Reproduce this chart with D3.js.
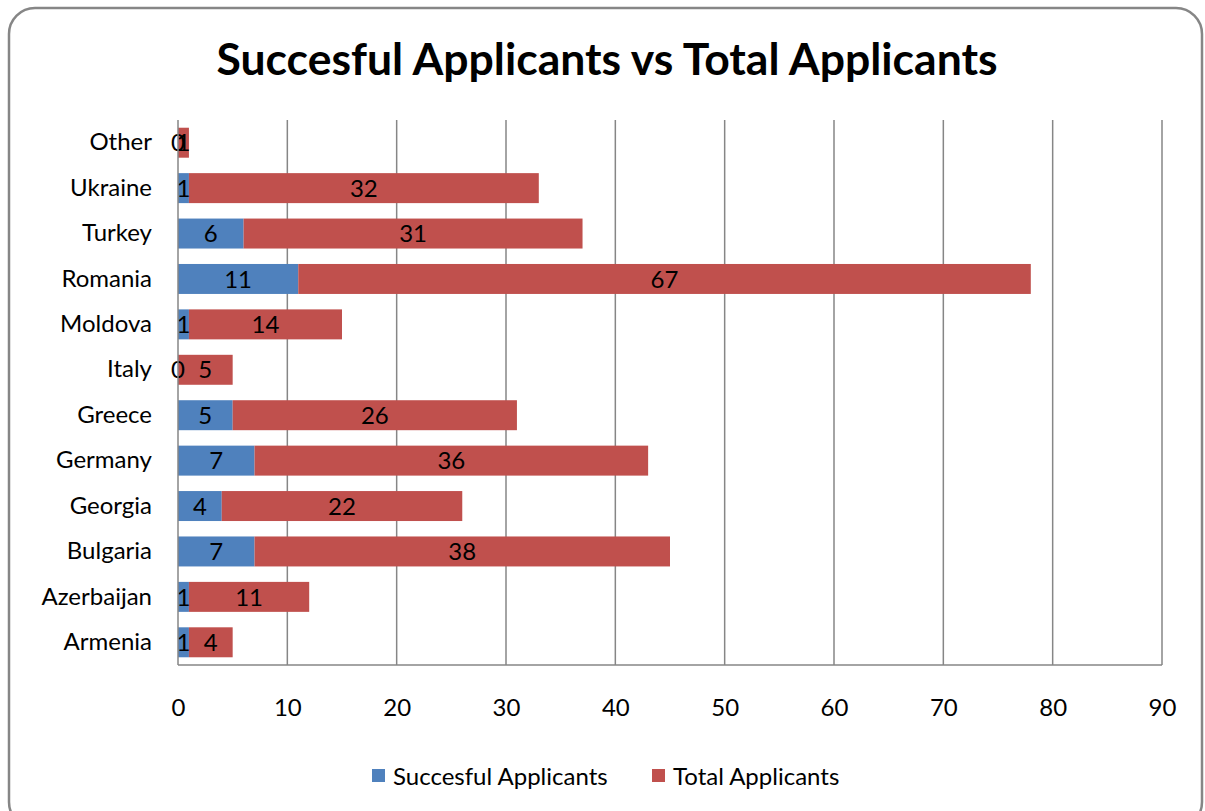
<!DOCTYPE html>
<html><head><meta charset="utf-8">
<script src="https://cdn.jsdelivr.net/npm/d3@7"></script>
<style>body{margin:0;background:#fff;} svg{display:block;}</style>
</head><body><svg id="c" width="1205" height="811"></svg>
<script>
const categories = ["Armenia","Azerbaijan","Bulgaria","Georgia","Germany","Greece","Italy","Moldova","Romania","Turkey","Ukraine","Other"];
const successful = [1,1,7,4,7,5,0,1,11,6,1,0];
const total = [4,11,38,22,36,26,5,14,67,31,32,1];
const xTicks = [0,10,20,30,40,50,60,70,80,90];
const seriesNames = ["Succesful Applicants","Total Applicants"];
const colors = ["#4F81BD","#C0504D"];
const FONT = "Lato, 'Open Sans', sans-serif";
const FS = 24;

const svg = d3.select("#c");
svg.append("rect").attr("x",9).attr("y",8).attr("width",1193).attr("height",820)
  .attr("rx",26).attr("fill","#fff").attr("stroke","#868686").attr("stroke-width",2.5);

svg.append("text").attr("x",607).attr("y",75).attr("text-anchor","middle")
  .attr("font-family",FONT).attr("font-weight","bold").attr("font-size",44.5).attr("fill","#000")
  .text("Succesful Applicants vs Total Applicants");

const L=178,R=1162,T=120,B=665;
const x = d3.scaleLinear().domain([0,90]).range([L,R]);
const y = d3.scaleBand().domain(categories.slice().reverse()).range([T,B]).paddingInner(0.34).paddingOuter(0.17);

svg.append("g").selectAll("line").data(xTicks.filter(d=>d>0)).join("line")
  .attr("x1",d=>x(d)).attr("x2",d=>x(d)).attr("y1",T).attr("y2",B)
  .attr("stroke","#868686").attr("stroke-width",1.5);

const rows = categories.map((c,i)=>({c,s:successful[i],t:total[i]}));
const g = svg.append("g");
rows.forEach(r=>{
  g.append("rect").attr("x",x(0)).attr("y",y(r.c)).attr("width",x(r.s)-x(0)).attr("height",y.bandwidth()).attr("fill",colors[0]);
  g.append("rect").attr("x",x(r.s)).attr("y",y(r.c)).attr("width",x(r.s+r.t)-x(r.s)).attr("height",y.bandwidth()).attr("fill",colors[1]);
});
svg.append("line").attr("x1",L).attr("x2",L).attr("y1",T).attr("y2",B).attr("stroke","#868686").attr("stroke-width",1.5);
svg.append("line").attr("x1",L).attr("x2",R).attr("y1",B).attr("y2",B).attr("stroke","#868686").attr("stroke-width",1.5);

rows.forEach(r=>{
  const cy = y(r.c)+y.bandwidth()/2;
  g.append("text").attr("x",(x(0)+x(r.s))/2).attr("y",cy).attr("dy","0.36em").attr("text-anchor","middle")
    .attr("font-family",FONT).attr("font-size",FS).attr("fill","#000").text(r.s);
  g.append("text").attr("x",(x(r.s)+x(r.s+r.t))/2).attr("y",cy).attr("dy","0.36em").attr("text-anchor","middle")
    .attr("font-family",FONT).attr("font-size",FS).attr("fill","#000").text(r.t);
});

const ya = d3.axisLeft(y).tickSize(0).tickPadding(26);
svg.append("g").attr("transform",`translate(${L},0)`).call(ya)
  .call(s=>s.select(".domain").remove())
  .selectAll("text").attr("font-family",FONT).attr("font-size",FS).attr("fill","#000");

const xa = d3.axisBottom(x).tickValues(xTicks).tickSize(0).tickPadding(34);
svg.append("g").attr("transform",`translate(0,${B})`).call(xa)
  .call(s=>s.select(".domain").remove())
  .selectAll("text").attr("font-family",FONT).attr("font-size",FS).attr("fill","#000");

const leg = svg.append("g");
const lx = [372, 652];
seriesNames.forEach((n,i)=>{
  leg.append("rect").attr("x",lx[i]).attr("y",769).attr("width",13).attr("height",13).attr("fill",colors[i]);
  leg.append("text").attr("x",lx[i]+21).attr("y",776).attr("dy","0.36em").attr("font-family",FONT)
    .attr("font-size",FS).attr("fill","#000").text(n);
});
</script></body></html>
